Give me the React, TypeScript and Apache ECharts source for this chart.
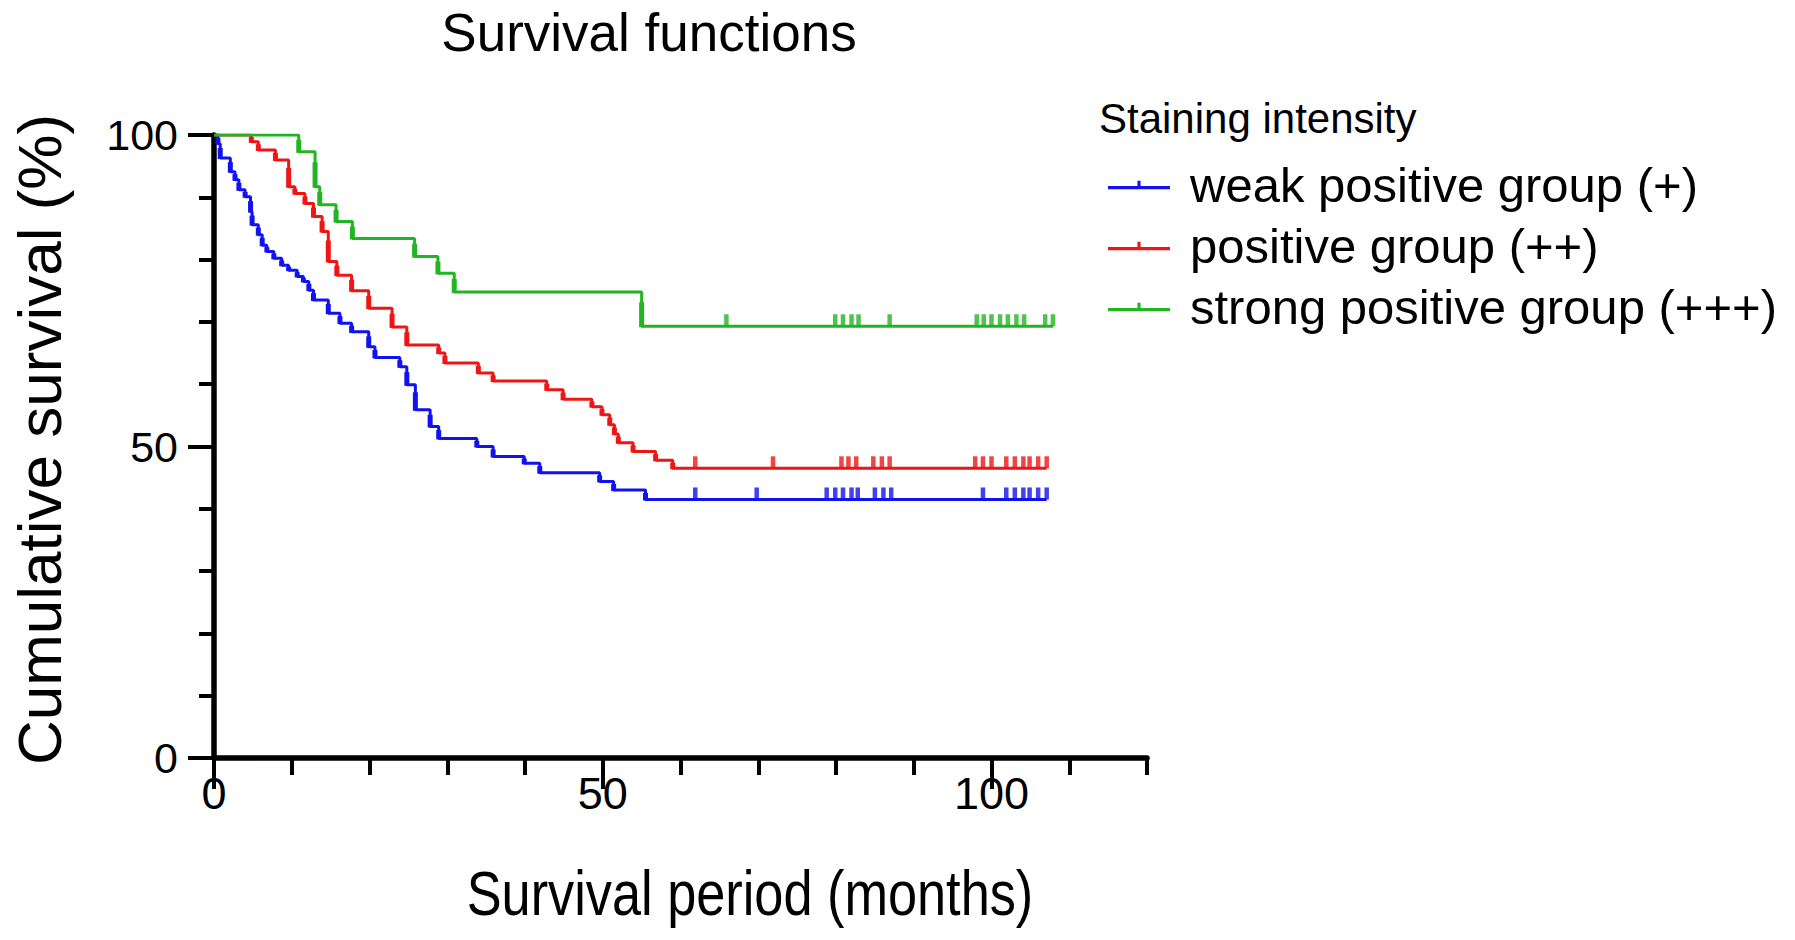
import React, { useEffect, useRef } from "react";
import * as echarts from "echarts";

// Kaplan-Meier curves: event times (months) and survival (%) after each event
const blueT = [0, 0.5, 0.8, 2.1, 2.7, 3.2, 4.0, 4.7, 4.9, 5.7, 6.2, 6.8, 7.7, 8.7, 9.6, 10.7, 11.5, 12.2, 12.8, 14.7, 16.2, 17.7, 19.9, 20.7, 23.9, 24.8, 25.9, 27.8, 28.9, 33.8, 35.9, 39.9, 41.9, 49.6, 51.4, 55.5];
const blueS = [100, 98.6, 96.3, 94.1, 92.8, 91.2, 90.1, 87.7, 85.6, 84.0, 82.3, 81.3, 80.2, 79.1, 78.3, 77.3, 76.5, 75.1, 73.5, 71.4, 69.8, 68.4, 66.0, 64.3, 62.8, 59.9, 55.9, 53.2, 51.3, 50.0, 48.4, 47.3, 45.8, 44.4, 43.0, 41.5];
const blueCensor = [61.9, 69.8, 78.8, 79.9, 80.9, 82.0, 82.8, 85.0, 86.1, 87.1, 98.9, 101.9, 103.0, 104.1, 104.9, 106.0, 107.1];

const redT = [0, 4.8, 5.7, 7.9, 9.6, 10.4, 11.7, 12.8, 13.9, 14.7, 15.8, 17.7, 19.9, 22.9, 24.8, 28.9, 29.7, 34.0, 35.9, 42.8, 44.9, 48.6, 49.9, 50.9, 51.5, 52.0, 53.9, 56.8, 59.0];
const redS = [100, 98.9, 97.6, 96.0, 91.7, 90.6, 89.0, 86.9, 84.5, 79.7, 77.5, 75.0, 72.2, 69.2, 66.3, 65.0, 63.4, 61.8, 60.5, 59.1, 57.6, 56.4, 55.1, 53.5, 52.0, 50.6, 49.2, 47.8, 46.5];
const redCensor = [61.9, 71.9, 80.7, 81.6, 82.6, 84.8, 85.9, 86.9, 97.9, 98.9, 100.0, 101.9, 103.0, 104.1, 104.9, 106.0, 107.1];

const greenT = [0, 10.9, 13.0, 13.6, 15.7, 17.8, 25.8, 28.8, 30.9, 55.0];
const greenS = [100, 97.3, 91.7, 88.8, 86.1, 83.4, 80.5, 77.8, 74.8, 69.3];
const greenCensor = [65.9, 79.9, 80.9, 82.0, 82.9, 86.9, 98.1, 99.0, 100.0, 101.1, 102.1, 103.2, 104.2, 106.9, 107.9];

const groupNames = ["weak positive group (+)", "positive group (++)", "strong positive group (+++)"];
const groupColors = ["#1212ee", "#ee1515", "#22b422"];

const xMajorTicks = [0, 50, 100];
const yMajorTicks = [0, 50, 100];

const FONT = "'Liberation Sans', Arial, Helvetica, sans-serif";

function levelAt(times: number[], surv: number[], t: number) {
  let s = surv[0];
  for (let i = 0; i < times.length; i++) if (times[i] <= t) s = surv[i];
  return s;
}

function stepData(times: number[], surv: number[], censor: number[]) {
  const d = times.map((t, i) => [t, surv[i]]);
  const end = Math.max(times[times.length - 1], ...censor);
  d.push([end, surv[surv.length - 1]]);
  return d;
}

function dropData(times: number[], surv: number[]) {
  const d: number[][] = [];
  for (let i = 1; i < times.length; i++) d.push([times[i], surv[i - 1], surv[i]]);
  return d;
}

function censorData(times: number[], surv: number[], censor: number[]) {
  return censor.map((t) => [t, levelAt(times, surv, t)]);
}

const legendIcon = "path://M0,8L60,8L60,11L0,11Z M28.5,3L31.5,3L31.5,8L28.5,8Z";

export default function App() {
  const ref = useRef<HTMLDivElement>(null);
  useEffect(() => {
    if (!ref.current) return;
    const chart = echarts.init(ref.current, undefined, { renderer: "svg" });
    const groups = [
      [blueT, blueS, blueCensor],
      [redT, redS, redCensor],
      [greenT, greenS, greenCensor],
    ];
    const series: any[] = [];
    groups.forEach((g, i) => {
      const color = groupColors[i];
      series.push({
        name: groupNames[i],
        type: "line",
        step: "end",
        symbol: "none",
        data: stepData(g[0], g[1], g[2]),
        lineStyle: { color, width: 3 },
        itemStyle: { color },
        z: 3,
      });
      series.push({
        name: groupNames[i] + " drops",
        type: "custom",
        data: dropData(g[0], g[1]),
        encode: { x: 0, y: [1, 2] },
        renderItem: (params: any, api: any) => {
          const p1 = api.coord([api.value(0), api.value(1)]);
          const p2 = api.coord([api.value(0), api.value(2)]);
          const h = p2[1] - p1[1];
          return {
            type: "rect",
            shape: { x: p1[0] - 2.5, y: p1[1] + h * 0.3, width: 5, height: h * 0.7 + 1 },
            style: { fill: color },
          };
        },
        z: 4,
      });
      series.push({
        name: groupNames[i] + " censored",
        type: "scatter",
        data: censorData(g[0], g[1], g[2]),
        symbol: "rect",
        symbolSize: [4.5, 12],
        symbolOffset: [0, -6],
        itemStyle: { color },
        z: 4,
      });
    });

    const axisColor = "#000";
    chart.setOption({
      animation: false,
      backgroundColor: "#fff",
      title: {
        text: "Survival functions",
        left: 649,
        top: 6,
        textAlign: "center",
        padding: 0,
        textStyle: { fontFamily: FONT, fontSize: 53, fontWeight: "normal", color: "#000" },
      },
      legend: {
        data: groupNames,
        orient: "vertical",
        left: 1108,
        top: 160,
        padding: 0,
        itemGap: 11,
        itemWidth: 62,
        itemHeight: 11,
        icon: legendIcon,
        textStyle: { fontFamily: FONT, fontSize: 49, color: "#000", lineHeight: 50, padding: [0, 0, 0, 15] },
      },
      graphic: [
        {
          type: "text",
          left: 1099,
          top: 97,
          style: { text: "Staining intensity", font: `42px ${FONT}`, fill: "#000" },
        },
        {
          type: "text",
          x: 750,
          y: 893,
          scaleX: 0.83,
          style: {
            text: "Survival period (months)",
            font: `63px ${FONT}`,
            fill: "#000",
            align: "center",
            verticalAlign: "middle",
          },
        },
      ],
      grid: { left: 212, top: 135, width: 935, height: 623, containLabel: false },
      xAxis: [
        {
          type: "value",
          min: 0,
          max: 120,
          interval: 10,
          position: "bottom",
          axisLine: { show: true, onZero: false, lineStyle: { color: axisColor, width: 5.5 } },
          axisTick: { show: true, length: 17, lineStyle: { color: axisColor, width: 4 } },
          axisLabel: { show: false },
          splitLine: { show: false },
        },
        {
          type: "value",
          min: 0,
          max: 120,
          position: "bottom",
          axisLine: { show: false },
          axisTick: { show: true, customValues: xMajorTicks, length: 31, lineStyle: { color: axisColor, width: 4 } },
          axisLabel: { show: true, customValues: xMajorTicks, margin: 13, fontFamily: FONT, fontSize: 45, color: "#000" },
          splitLine: { show: false },
        },
      ],
      yAxis: [
        {
          type: "value",
          min: 0,
          max: 100,
          interval: 10,
          position: "left",
          axisLine: { show: true, onZero: false, lineStyle: { color: axisColor, width: 5.5 } },
          axisTick: { show: true, length: 15, lineStyle: { color: axisColor, width: 4 } },
          axisLabel: { show: false },
          splitLine: { show: false },
          name: "Cumulative survival (%)",
          nameLocation: "middle",
          nameRotate: 90,
          nameGap: 144,
          nameTextStyle: { fontFamily: FONT, fontSize: 62, color: "#000", padding: [0, 0, 0, 14] },
        },
        {
          type: "value",
          min: 0,
          max: 100,
          position: "left",
          axisLine: { show: false },
          axisTick: { show: true, customValues: yMajorTicks, length: 26, lineStyle: { color: axisColor, width: 4 } },
          axisLabel: { show: true, customValues: yMajorTicks, margin: 36, fontFamily: FONT, fontSize: 43, color: "#000" },
          splitLine: { show: false },
        },
      ],
      series,
    });
    return () => chart.dispose();
  }, []);
  return <div ref={ref} style={{ position: "absolute", left: 0, top: 0, width: 1795, height: 940 }} />;
}
